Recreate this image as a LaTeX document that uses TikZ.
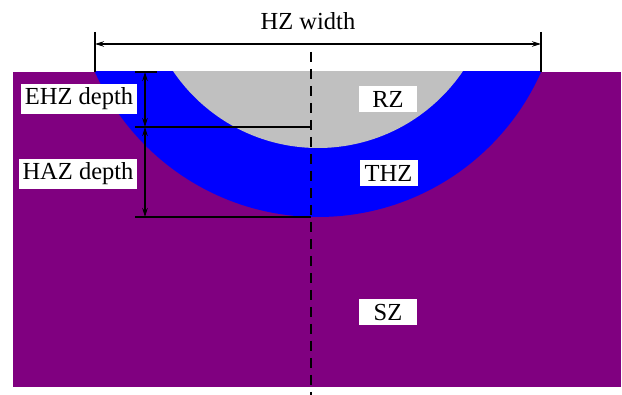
\documentclass[tikz,border=0pt]{standalone}
\usepackage{fontspec}
\setmainfont{Liberation Serif}
\usetikzlibrary{arrows.meta}
\definecolor{szpurple}{RGB}{128,0,128}
\definecolor{thzblue}{RGB}{0,0,255}
\definecolor{rzgray}{RGB}{192,192,192}
\begin{document}
\begin{tikzpicture}[x=1pt,y=-1pt,
  labelfont/.style={font=\fontsize{24.5}{29}\selectfont},
  dimline/.style={line width=1.2pt,
    {Stealth[length=9pt,width=5.5pt]}-{Stealth[length=9pt,width=5.5pt]}},
  guide/.style={line width=1.2pt},
  axisline/.style={line width=1.5pt, dash pattern=on 10pt off 7pt},
  zonelabel/.style={labelfont, fill=white, inner sep=0pt,
    minimum width=58pt, minimum height=26pt, text height=17pt, text depth=0pt},
  depthlabel/.style={labelfont, fill=white, inner xsep=4pt, inner ysep=0pt,
    minimum height=30pt, text height=17pt, text depth=5.5pt}]
\useasboundingbox (0,0) rectangle (622,395);

% substrate and the two heated zones (concentric circular caps)
\fill[szpurple] (13,72) rectangle (621,387);
\begin{scope}
  \clip (13,72) rectangle (621,387);
  \fill[thzblue] (318,-27) circle[radius=244pt];
  \fill[rzgray]  (318,-27) circle[radius=175pt];
\end{scope}

% symmetry axis
\coordinate (axtop) at (311,52);
\coordinate (axbot) at (311,395);
\draw[axisline] (axtop) -- (axbot);

% hardened zone width
\coordinate (wlt) at (95,32);  \coordinate (wlb) at (95,72);
\coordinate (wrt) at (541,32); \coordinate (wrb) at (541,72);
\coordinate (wl) at (95,44);   \coordinate (wr) at (541,44);
\draw[guide] (wlt) -- (wlb);
\draw[guide] (wrt) -- (wrb);
\draw[dimline] (wl) -- (wr);
\node[labelfont, anchor=base, inner sep=0pt] (hzw) at (308,29.5) {HZ width};

% depth references
\coordinate (t0a) at (135,72);  \coordinate (t0b) at (157,72);
\coordinate (t1a) at (135,127); \coordinate (t1b) at (311,127);
\coordinate (t2a) at (135,217); \coordinate (t2b) at (311,217);
\draw[guide] (t0a) -- (t0b);
\draw[guide] (t1a) -- (t1b);
\draw[guide] (t2a) -- (t2b);
\coordinate (d0) at (145,72);
\coordinate (d1) at (145,127);
\coordinate (d2) at (145,217);
\draw[dimline] (d0) -- (d1);
\draw[dimline] (d1) -- (d2);

% labels
\node[depthlabel] (ehz) at (79,99)  {EHZ depth};
\node[depthlabel] (haz) at (78,174) {HAZ depth};
\node[zonelabel]  (rz)  at (388,99)  {RZ};
\node[zonelabel]  (thz) at (388.5,173) {THZ};
\node[zonelabel]  (sz)  at (388,312) {SZ};
\end{tikzpicture}
\end{document}
